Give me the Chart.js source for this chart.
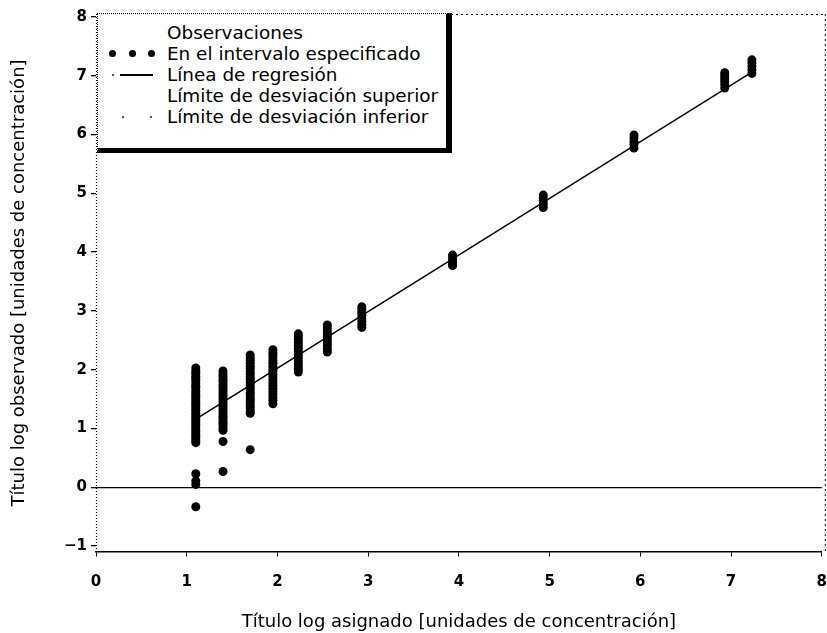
<!DOCTYPE html>
<html>
<head>
<meta charset="utf-8">
<script src="https://cdn.jsdelivr.net/npm/chart.js@4"></script>
<style>
html,body{margin:0;padding:0;background:#fff;}
#wrap{position:relative;width:827px;height:633px;}
#chart{position:absolute;left:0;top:0;}
#legend{position:absolute;left:97px;top:13px;width:348px;height:134px;border-left:1px dotted #000;border-top:1px dotted #000;border-right:6px solid #000;border-bottom:5px solid #000;background:#fff;font-family:"DejaVu Sans",sans-serif;font-size:18.4px;color:#000;z-index:2;}
.row{position:absolute;left:69px;height:21px;line-height:21px;white-space:nowrap;}
.dot{position:absolute;width:7px;height:7px;border-radius:50%;background:#000;}
.ln{position:absolute;height:1.5px;background:#000;}
.tiny{position:absolute;width:2px;height:2px;background:#555;}
</style>
</head>
<body>
<div id="wrap">
<canvas id="chart" width="827" height="633"></canvas>
<div id="legend">
  <div class="row" style="top:8px;">Observaciones</div>
  <span class="dot" style="left:11px;top:36px;"></span>
  <span class="dot" style="left:31px;top:36px;"></span>
  <span class="dot" style="left:50px;top:36px;"></span>
  <div class="row" style="top:29px;">En el intervalo especificado</div>
  <span class="tiny" style="left:14px;top:60px;"></span>
  <span class="ln" style="left:22px;top:60px;width:33px;"></span>
  <div class="row" style="top:50px;">Línea de regresión</div>
  <div class="row" style="top:71px;">Límite de desviación superior</div>
  <span class="tiny" style="left:24px;top:102px;"></span>
  <span class="tiny" style="left:52px;top:102px;"></span>
  <div class="row" style="top:92px;">Límite de desviación inferior</div>
</div>
</div>
<script>
// Observed titres: x position of each dilution column and the y values read per column
const columnX = [1.1, 1.4, 1.7, 1.95, 2.23, 2.55, 2.93, 3.93, 4.93, 5.93, 6.93, 7.23];
const columnY = [
  [2.03, 1.98, 1.94, 1.89, 1.85, 1.81, 1.76, 1.72, 1.68, 1.63, 1.59, 1.55, 1.51, 1.47, 1.43, 1.39, 1.35, 1.31, 1.27, 1.23, 1.19, 1.15, 1.11, 1.07, 1.03, 0.99, 0.95, 0.91, 0.87, 0.83, 0.79, 0.76, 0.23, 0.11, 0.05, -0.33],
  [1.98, 1.93, 1.89, 1.84, 1.80, 1.75, 1.71, 1.67, 1.62, 1.58, 1.54, 1.50, 1.45, 1.41, 1.37, 1.33, 1.29, 1.25, 1.21, 1.17, 1.13, 1.09, 1.05, 1.01, 0.97, 0.78, 0.27],
  [2.25, 2.20, 2.16, 2.11, 2.06, 2.02, 1.97, 1.93, 1.88, 1.84, 1.79, 1.75, 1.70, 1.66, 1.61, 1.57, 1.52, 1.48, 1.44, 1.39, 1.35, 1.30, 1.26, 0.64],
  [2.34, 2.29, 2.25, 2.20, 2.15, 2.11, 2.06, 2.01, 1.97, 1.92, 1.88, 1.83, 1.78, 1.73, 1.68, 1.63, 1.58, 1.53, 1.48, 1.42],
  [2.61, 2.56, 2.51, 2.46, 2.41, 2.36, 2.31, 2.26, 2.21, 2.16, 2.11, 2.06, 2.01, 1.96],
  [2.76, 2.71, 2.66, 2.61, 2.56, 2.51, 2.46, 2.41, 2.35, 2.30],
  [3.07, 3.02, 2.97, 2.92, 2.87, 2.82, 2.77, 2.72],
  [3.95, 3.90, 3.85, 3.80, 3.77],
  [4.97, 4.92, 4.87, 4.82, 4.76],
  [5.99, 5.94, 5.88, 5.83, 5.77],
  [7.05, 7.00, 6.95, 6.90, 6.85, 6.79],
  [7.27, 7.22, 7.16, 7.10, 7.04]
];
// Regression line end points
const regX = [1.1, 7.23];
const regY = [1.16, 7.06];
// Tick labels
const xTicks = [0, 1, 2, 3, 4, 5, 6, 7, 8];
const yTicks = [-1, 0, 1, 2, 3, 4, 5, 6, 7, 8];

const FONT = '"DejaVu Sans", sans-serif';
const obsPoints = [];
columnX.forEach((x, i) => columnY[i].forEach(y => obsPoints.push({x: x, y: y})));
const regPoints = regX.map((x, i) => ({x: x, y: regY[i]}));

const framePlugin = {
  id: 'frame',
  afterDraw(chart) {
    const {ctx, chartArea: a} = chart;
    ctx.save();
    ctx.strokeStyle = '#000';
    ctx.lineWidth = 1;
    ctx.setLineDash([2, 3]);
    ctx.beginPath();
    ctx.moveTo(a.left, a.top + 0.5);
    ctx.lineTo(a.right + 3, a.top + 0.5);
    ctx.moveTo(a.right + 3.5, a.top);
    ctx.lineTo(a.right + 3.5, a.bottom);
    ctx.stroke();
    ctx.setLineDash([1, 2]);
    ctx.lineWidth = 1.2;
    ctx.beginPath();
    ctx.moveTo(a.left + 0.5, a.top);
    ctx.lineTo(a.left + 0.5, a.bottom);
    ctx.stroke();
    ctx.restore();
  }
};

new Chart(document.getElementById('chart'), {
  type: 'scatter',
  data: {
    datasets: [
      {
        label: 'En el intervalo especificado',
        data: obsPoints,
        pointRadius: 4.5,
        pointBackgroundColor: '#000',
        pointBorderColor: '#000',
        pointBorderWidth: 0,
        showLine: false
      },
      {
        label: 'Línea de regresión',
        data: regPoints,
        showLine: true,
        borderColor: '#000',
        borderWidth: 1.5,
        pointRadius: 0,
        fill: false
      }
    ]
  },
  options: {
    responsive: false,
    animation: false,
    devicePixelRatio: 1,
    layout: {padding: {top: 14, right: 5, left: 0, bottom: 0}},
    plugins: {legend: {display: false}, tooltip: {enabled: false}},
    scales: {
      x: {
        type: 'linear', min: 0, max: 8,
        afterFit(s) { s.height = 81; },
        afterBuildTicks(s) { s.ticks = xTicks.map(v => ({value: v})); },
        ticks: {font: {family: FONT, size: 15, weight: 'bold'}, color: '#000', padding: 0, maxRotation: 0},
        grid: {drawOnChartArea: false, color: '#000', tickLength: 21, tickBorderDash: [4, 40], lineWidth: 1},
        border: {color: '#000', width: 1.5},
        title: {display: true, text: 'Título log asignado [unidades de concentración]', font: {family: FONT, size: 18}, color: '#000', padding: {top: 0, bottom: 0}}
      },
      y: {
        type: 'linear', min: -1.1, max: 8.05,
        afterFit(s) { s.width = 96; },
        afterBuildTicks(s) { s.ticks = yTicks.map(v => ({value: v})); },
        ticks: {font: {family: FONT, size: 15, weight: 'bold'}, color: '#000', padding: 4,
          callback: v => (v < 0 ? '\u2212' + Math.abs(v) : String(v))},
        grid: {
          drawOnChartArea: true,
          color: c => (c.tick && c.tick.value === 0 ? '#000' : 'rgba(0,0,0,0)'),
          tickColor: '#000', tickLength: 5, lineWidth: 1.3
        },
        border: {display: false},
        title: {display: true, text: 'Título log observado [unidades de concentración]', font: {family: FONT, size: 18}, color: '#000', padding: {top: 9, bottom: 0}}
      }
    }
  },
  plugins: [framePlugin]
});
</script>
</body>
</html>
